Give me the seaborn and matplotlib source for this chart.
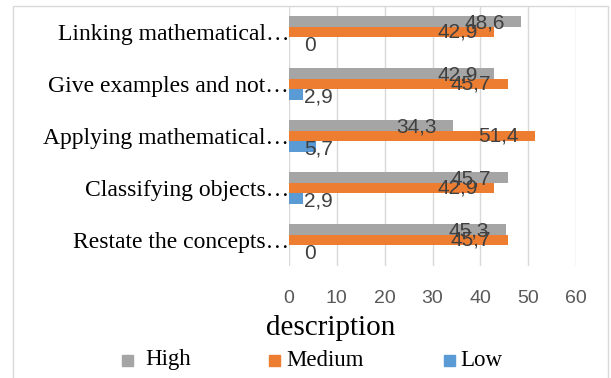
import matplotlib
matplotlib.use("Agg")
import matplotlib.pyplot as plt
import seaborn as sns
import pandas as pd
from matplotlib.patches import Rectangle

categories = [
    "Linking mathematical…",
    "Give examples and not…",
    "Applying mathematical…",
    "Classifying objects…",
    "Restate the concepts…",
]
levels = ["High", "Medium", "Low"]
high = [48.6, 42.9, 34.3, 45.7, 45.3]
medium = [42.9, 45.7, 51.4, 42.9, 45.7]
low = [0, 2.9, 5.7, 2.9, 0]
x_ticks = [0, 10, 20, 30, 40, 50, 60]

palette = {"High": "#A5A5A5", "Medium": "#ED7D31", "Low": "#5B9BD5"}

rows = []
for cat, h, m, l in zip(categories, high, medium, low):
    rows.append({"aspect": cat, "level": "High", "value": h})
    rows.append({"aspect": cat, "level": "Medium", "value": m})
    rows.append({"aspect": cat, "level": "Low", "value": l})
df = pd.DataFrame(rows)

sns.set_theme(style="white")
plt.rcParams["font.family"] = ["Liberation Serif", "DejaVu Serif"]

W, H = 611, 378
fig = plt.figure(figsize=(W / 100, H / 100), dpi=100)
ax = fig.add_axes([289 / W, 1 - 266 / H, (576 - 289) / W, 260 / H])

sns.barplot(
    data=df, y="aspect", x="value", hue="level",
    order=categories, hue_order=levels, palette=palette,
    orient="h", width=0.6, saturation=1, ax=ax, legend=False,
    errorbar=None, linewidth=0,
)

ax.set_xlim(0, 60)
ax.set_ylim(4.5, -0.5)
ax.set_xticks(x_ticks)
ax.set_xticklabels([str(t) for t in x_ticks], family="Liberation Sans",
                   fontsize=14, color="#595959")
ax.tick_params(axis="x", length=0, pad=17)
ax.tick_params(axis="y", length=0, pad=0, labelsize=17, labelcolor="#000000")
ax.set_ylabel("")
ax.set_xlabel("")
ax.grid(axis="x", color="#D9D9D9", linewidth=1)
ax.set_axisbelow(True)
for s in ax.spines.values():
    s.set_visible(False)

fig.text(331 / W, 1 - 328 / H, "description", ha="center", va="center",
         fontsize=21, color="#000000")

# value labels
label_kw = dict(textcoords="offset points", va="center",
                family="Liberation Sans", fontsize=15, color="#404040")
for i, (h, m, l) in enumerate(zip(high, medium, low)):
    ax.annotate(f"{h:.1f}".replace(".", ","), (h, i - 0.2), xytext=(-12, -1),
                ha="right", **label_kw)
    ax.annotate(f"{m:.1f}".replace(".", ","), (m, i), xytext=(-12, 0),
                ha="right", **label_kw)
    txt = "0" if l == 0 else f"{l:.1f}".replace(".", ",")
    ax.annotate(txt, (0, i + 0.2), xytext=(11, -2), ha="left", **label_kw)

# legend: square swatch followed by the level name
legend_y = 1 - 360 / H
swatch = 11
for name, sx, tx in [("High", 122, 145), ("Medium", 269, 286), ("Low", 444, 460)]:
    fig.patches.append(Rectangle((sx / W, legend_y - swatch / 2 / H), swatch / W, swatch / H,
                                 transform=fig.transFigure, color=palette[name]))
    fig.text(tx / W, legend_y, name, ha="left", va="center", fontsize=16.5,
             color="#000000")

fig.patches.append(Rectangle((13 / W, -0.05), (608 - 13) / W, 1.05 - 6 / H,
                             transform=fig.transFigure, fill=False,
                             edgecolor="#D9D9D9", linewidth=1))

fig.savefig("out.png", dpi=100)
